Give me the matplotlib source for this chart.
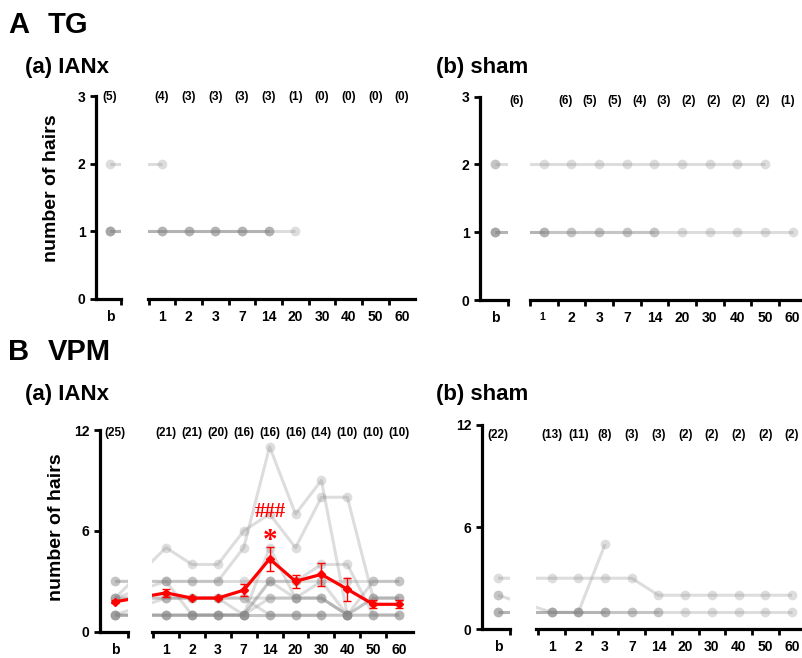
import matplotlib
matplotlib.use("Agg")
import matplotlib.pyplot as plt
import numpy as np

plt.rcParams['font.family'] = ['Liberation Sans', 'DejaVu Sans']
plt.rcParams['font.weight'] = 'bold'

nan = np.nan
day_labels = ['1', '2', '3', '7', '14', '20', '30', '40', '50', '60']

# each row = one animal: [baseline, day 1, 2, 3, 7, 14, 20, 30, 40, 50, 60]
tg_ianx = [
    [2, 2, nan, nan, nan, nan, nan, nan, nan, nan, nan],
    [1, 1, 1, 1, 1, 1, 1, nan, nan, nan, nan],
    [1, 1, 1, 1, 1, 1, nan, nan, nan, nan, nan],
    [1, 1, 1, 1, 1, 1, nan, nan, nan, nan, nan],
    [1, nan, nan, nan, nan, nan, nan, nan, nan, nan, nan],
]
tg_ianx_n = ['(5)', '(4)', '(3)', '(3)', '(3)', '(3)', '(1)', '(0)', '(0)', '(0)', '(0)']

tg_sham = [
    [2, 2, 2, 2, 2, 2, 2, 2, 2, 2, nan],
    [2, nan, nan, nan, nan, nan, nan, nan, nan, nan, nan],
    [1, 1, 1, 1, 1, 1, 1, 1, 1, 1, 1],
    [1, 1, 1, 1, 1, 1, nan, nan, nan, nan, nan],
    [1, 1, nan, nan, nan, nan, nan, nan, nan, nan, nan],
    [1, nan, nan, nan, nan, nan, nan, nan, nan, nan, nan],
]
tg_sham_n = ['(6)', '(6)', '(5)', '(5)', '(4)', '(3)', '(2)', '(2)', '(2)', '(2)', '(1)']

vpm_ianx = [
    [2, 5, 4, 4, 6, 7, 5, 8, 8, 2, 2],
    [3, 3, 3, 3, 5, 11, 7, 9, 1, nan, nan],
    [3, 3, 3, 3, 3, 3, 3, 3, 3, 3, 3],
    [2, 3, 1, 1, 1, 5, 2, 2, 1, 3, 3],
    [2, 2, 2, 2, 2, 2, 2, 2, 1, 2, 2],
    [1, 2, 2, 2, 1, 3, 3, 4, 4, 1, 1],
    [1, 1, 1, 1, 1, 2, 2, 2, 1, 1, 1],
    [1, 1, 1, 1, 1, 1, 1, 1, 1, 1, 1],
    [1, 1, 1, 1, 1, 3, 2, 3, 1, 2, 2],
    [2, 2, 2, 2, 2, 1, 1, 1, 1, nan, nan],
    [1, 1, 1, 1, 1, 1, 1, 1, nan, nan, nan],
]
vpm_ianx_mean = [1.78, 2.31, 2.0, 2.0, 2.47, 4.33, 3.0, 3.41, 2.53, 1.63, 1.63]
vpm_ianx_sem = [0.1, 0.24, 0.08, 0.08, 0.36, 0.7, 0.39, 0.69, 0.69, 0.24, 0.24]
vpm_ianx_n = ['(25)', '(21)', '(21)', '(20)', '(16)', '(16)', '(16)', '(14)', '(10)', '(10)', '(10)']

vpm_sham = [
    [3, 3, 3, 3, 3, 2, 2, 2, 2, 2, 2],
    [2, 1, 1, 5, nan, nan, nan, nan, nan, nan, nan],
    [2, nan, nan, nan, nan, nan, nan, nan, nan, nan, nan],
    [1, 1, 1, 1, 1, 1, 1, 1, 1, 1, 1],
    [1, 1, 1, 1, 1, 1, nan, nan, nan, nan, nan],
    [1, 1, 1, 1, nan, nan, nan, nan, nan, nan, nan],
]
vpm_sham_n = ['(22)', '(13)', '(11)', '(8)', '(3)', '(3)', '(2)', '(2)', '(2)', '(2)', '(2)']

W, H = 802, 658
fig = plt.figure(figsize=(W / 100, H / 100), dpi=100)

GRAY = '#888888'
ALPHA = 0.28
SPINE_LW = 2.3


def px_axes(x0, x1, ytop, ybot):
    return fig.add_axes([x0 / W, 1 - ybot / H, (x1 - x0) / W, (ybot - ytop) / H])


def panel(g, animals, counts, ymax, yticks, mean=None, sem=None):
    pos = np.array([0.0] + [g['off'] + i for i in range(10)])
    axb = px_axes(g['yax'], g['bright'], g['ytop'], g['ybot'])
    axd = px_axes(g['dleft'], g['dright'], g['ytop'], g['ybot'])
    axb.set_xlim((g['yax'] - g['xb']) / g['unit'], (g['bright'] - g['xb']) / g['unit'])
    axd.set_xlim((g['dleft'] - g['xb']) / g['unit'], (g['dright'] - g['xb']) / g['unit'])
    for ax in (axb, axd):
        ax.set_ylim(0, ymax)
        ax.patch.set_alpha(0)
        for s in ('top', 'right'):
            ax.spines[s].set_visible(False)
        ax.spines['bottom'].set_linewidth(SPINE_LW)
        ax.tick_params(axis='both', width=2, length=4, labelsize=10, direction='out')
        for a in animals:
            ax.plot(pos, a, '-', color=GRAY, alpha=ALPHA, lw=2.2, solid_capstyle='butt')
            ax.plot(pos, a, 'o', color=GRAY, alpha=ALPHA, ms=7, mew=0)
        if mean is not None:
            ax.errorbar(pos, mean, yerr=sem, color='red', lw=2.3, marker='D', ms=4.5,
                        elinewidth=1, capsize=3, capthick=1, zorder=5)
    axb.spines['left'].set_linewidth(SPINE_LW)
    axb.set_yticks(yticks)
    axb.set_xticks([axb.get_xlim()[1]])
    axb.set_xticklabels([])
    axb.set_xticks([0], minor=True)
    axb.set_xticklabels(['b'], minor=True)
    axb.tick_params(axis='x', which='minor', length=0, pad=8, labelsize=10)
    axd.spines['left'].set_visible(False)
    axd.set_yticks([])
    axd.set_xticks(pos[1:] - 0.5)
    axd.set_xticklabels([])
    axd.set_xticks(pos[1:], minor=True)
    axd.set_xticklabels(day_labels, minor=True)
    axd.tick_params(axis='x', which='minor', length=0, pad=8, labelsize=10)
    # counts above each time point
    cx = g.get('cx', pos)
    for x, t in zip(cx, counts):
        axd.text(x, g['cy'], t, ha='center', va='center', fontsize=8.5, fontweight='bold')
    return axb, axd


# panel geometry in pixels
g_tg_ianx = dict(yax=96, bright=121, dleft=148, dright=415, ytop=96, ybot=298.5,
                 xb=110, unit=26.67, off=1.95, cy=2.99)
g_tg_sham = dict(yax=480, bright=508, dleft=530, dright=801, ytop=96.7, ybot=300,
                 xb=495, unit=29.8, off=0.97, cy=2.93)
g_tg_sham['cx'] = np.concatenate([[0], np.linspace(1.75, 9.78, 10)])
g_vpm_ianx = dict(yax=100, bright=128, dleft=152, dright=413, ytop=430, ybot=631.7,
                  xb=115, unit=25.9, off=1.97, cy=11.8)
g_vpm_sham = dict(yax=482, bright=510, dleft=536, dright=801, ytop=425, ybot=629.3,
                  xb=498, unit=26.7, off=2.01, cy=11.4)

panel(g_tg_ianx, tg_ianx, tg_ianx_n, 3, [0, 1, 2, 3])
axb, axd = panel(g_tg_sham, tg_sham, tg_sham_n, 3, [0, 1, 2, 3])
# misplaced day-1 label in original figure
axd.set_xticks(np.arange(1, 10) + 0.97, minor=True)
axd.set_xticklabels(day_labels[1:], minor=True)
axd.text(0.93, -0.06, '1', transform=axd.get_xaxis_transform(), ha='center', va='top',
         fontsize=7.5, fontweight='bold')
panel(g_vpm_ianx, vpm_ianx, vpm_ianx_n, 12, [0, 6, 12], vpm_ianx_mean, vpm_ianx_sem)
panel(g_vpm_sham, vpm_sham, vpm_sham_n, 12, [0, 6, 12])

# significance marks at day 14 (VPM IANx)
x14 = (270 - 115) / 25.9
ax_sig = fig.axes[5]
ax_sig.text(x14, 7.1, '###', color='red', ha='center', va='center', fontsize=15,
            family='Liberation Serif', fontweight='bold')
ax_sig.text(x14, 5.4, '*', color='red', ha='center', va='center', fontsize=21,
            family='Liberation Serif', fontweight='bold')

# titles and labels
fig.text(8 / W, 1 - 25 / H, 'A', fontsize=21, fontweight='bold', va='center')
fig.text(48 / W, 1 - 25 / H, 'TG', fontsize=21, fontweight='bold', va='center')
fig.text(25 / W, 1 - 68 / H, '(a) IANx', fontsize=16, fontweight='bold', va='center')
fig.text(436 / W, 1 - 68 / H, '(b) sham', fontsize=16, fontweight='bold', va='center')
fig.text(8 / W, 1 - 352 / H, 'B', fontsize=21, fontweight='bold', va='center')
fig.text(48 / W, 1 - 352 / H, 'VPM', fontsize=21, fontweight='bold', va='center')
fig.text(25 / W, 1 - 394 / H, '(a) IANx', fontsize=16, fontweight='bold', va='center')
fig.text(436 / W, 1 - 394 / H, '(b) sham', fontsize=16, fontweight='bold', va='center')
fig.text(52 / W, 1 - 188 / H, 'number of hairs', fontsize=14, fontweight='bold',
         rotation=90, ha='center', va='center')
fig.text(57 / W, 1 - 527 / H, 'number of hairs', fontsize=14, fontweight='bold',
         rotation=90, ha='center', va='center')

fig.savefig('out.png', dpi=100)
